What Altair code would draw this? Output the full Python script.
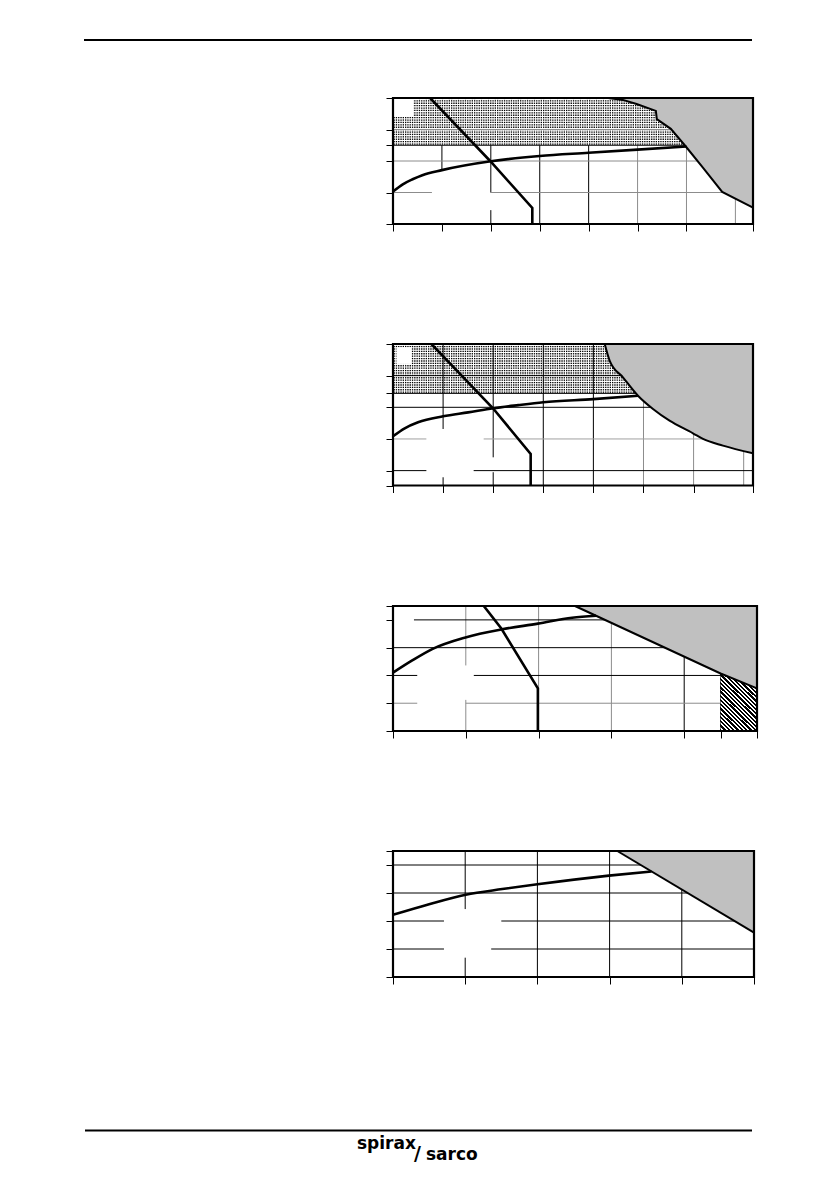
import altair as alt
import numpy as np
import pandas as pd

BLACK = "#000000"
GREY = "#8c8c8c"
SHADE = "#c0c0c0"

# ---------------- Chart 1 ----------------
c1_xdom = [0, 36.8]
c1_ydom = [0, 400]
c1_xticks = [0, 5, 10, 15, 20, 25, 30, 36.8]
c1_yticks = [0, 100, 200, 250, 300, 400]
c1_sat_x = [0, 1, 2, 3, 5, 10, 15, 20, 25, 30]
c1_sat_y = [103, 126, 142, 155, 171, 199, 216, 226, 236, 246]
c1_diag_x = [3.8, 9.93, 14.24, 14.24]
c1_diag_y = [400, 200, 51, 0]
c1_bound_x = [22.0, 23.5, 24.9, 26.87, 26.97, 28.4, 29.93, 31.7, 33.65, 36.8]
c1_bound_y = [400, 394, 381, 359, 333, 302, 246, 178, 102, 52]
c1_band = [0, 30, 250, 400]
c1_notch = [0, 2.1, 340, 400]
c1_vgrid_x = [5, 10, 10, 15, 20, 25, 30, 35]
c1_vgrid_y1 = [171, 0, 101, 0, 0, 0, 0, 0]
c1_vgrid_y2 = [250, 44, 250, 250, 250, 250, 250, 250]
c1_vgrid_c = [BLACK, BLACK, BLACK, BLACK, BLACK, GREY, GREY, GREY]
c1_hgrid_y = [100, 100, 200, 250, 300]
c1_hgrid_x1 = [0, 9.93, 0, 0, 0]
c1_hgrid_x2 = [3.98, 36.8, 36.8, 36.8, 36.8]
c1_hgrid_c = [GREY, GREY, GREY, BLACK, GREY]

# ---------------- Chart 2 ----------------
c2_xdom = [0, 35.93]
c2_ydom = [-47, 400]
c2_xticks = [0, 5, 10, 15, 20, 25, 30, 35.93]
c2_yticks = [-47, 0, 100, 200, 244, 300, 400]
c2_sat_x = [0, 1.17, 2.5, 5, 7.5, 10, 12.5, 15, 20, 24.45]
c2_sat_y = [108.5, 133.7, 152.7, 171.6, 184, 197, 207, 216, 226, 236.6]
c2_diag_x = [3.83, 9.98, 13.74, 13.74]
c2_diag_y = [400, 197, 52.7, -47]
c2_bound_x = [21.13, 21.63, 22.95, 24.45, 25.95, 27.6, 29.94, 30.94, 32.93, 35.93]
c2_bound_y = [400, 347, 294.6, 236.6, 194.6, 157.7, 118, 100, 78.9, 54.9]
c2_band = [0, 25, 244, 400]
c2_notch = [0.34, 1.83, 337, 390]
c2_vgrid_x = [5, 5, 10, 10, 15, 20, 25, 30, 35]
c2_vgrid_y1 = [131.5, -47, 42, -47, -47, -47, -47, -47, -47]
c2_vgrid_y2 = [400, -21, 400, -5, 400, 400, 400, 400, 400]
c2_vgrid_c = [BLACK, BLACK, BLACK, BLACK, BLACK, BLACK, GREY, GREY, GREY]
c2_hgrid_y = [300, 244, 200, 100, 100, 0, 0]
c2_hgrid_x1 = [0, 0, 0, 0, 9.05, 0, 8.05]
c2_hgrid_x2 = [35.93, 35.93, 35.93, 3.33, 35.93, 3.33, 35.93]
c2_hgrid_c = [BLACK, BLACK, BLACK, "#a0a0a0", "#a0a0a0", BLACK, BLACK]

# ---------------- Chart 3 ----------------
c3_xdom = [0, 50]
c3_ydom = [0, 450]
c3_xticks = [0, 10, 20, 30, 40, 45, 50]
c3_yticks = [0, 100, 200, 300, 400, 450]
c3_sat_x = [0, 2.64, 5.38, 9.95, 14.97, 19.9, 24.6, 27.9]
c3_sat_y = [210, 254, 295, 337, 366, 386.5, 408, 415]
c3_diag_x = [12.47, 14.88, 19.9, 19.9]
c3_diag_y = [450, 369, 153.5, 0]
c3_bound_x = [25, 45, 50]
c3_bound_y = [450, 207, 153.5]
c3_hatch_x = [45, 50]
c3_hatch_y = [207, 153.5]
c3_vgrid_x = [10, 10, 20, 30, 40, 45]
c3_vgrid_y1 = [236, 0, 0, 0, 0, 0]
c3_vgrid_y2 = [450, 112, 450, 450, 450, 450]
c3_vgrid_c = [GREY, GREY, GREY, GREY, BLACK, BLACK]
c3_hgrid_y = [400, 300, 200, 200, 100, 100]
c3_hgrid_x1 = [2.88, 0, 0, 11.1, 0, 10.0]
c3_hgrid_x2 = [50, 50, 3.33, 50, 3.33, 50]
c3_hgrid_c = [BLACK, BLACK, BLACK, BLACK, GREY, GREY]

# ---------------- Chart 4 ----------------
c4_xdom = [0, 50]
c4_ydom = [0, 450]
c4_xticks = [0, 10, 20, 30, 40, 50]
c4_yticks = [0, 100, 200, 300, 400, 450]
c4_sat_x = [0, 5, 10.07, 15.14, 20, 29.9, 35.8]
c4_sat_y = [222, 260, 294, 314, 331, 362, 377]
c4_bound_x = [31.07, 50]
c4_bound_y = [450, 158.8]
c4_vgrid_x = [10, 10, 20, 30, 40]
c4_vgrid_y1 = [242.6, 0, 0, 0, 0]
c4_vgrid_y2 = [450, 69, 450, 450, 450]
c4_vgrid_c = [BLACK] * 5
c4_hgrid_y = [400, 300, 200, 200, 100, 100]
c4_hgrid_x1 = [0, 0, 0, 15.0, 0, 13.6]
c4_hgrid_x2 = [50, 50, 7.06, 50, 7.06, 50]
c4_hgrid_c = [BLACK] * 6


def make_axis(vals):
    return alt.Axis(values=vals, labels=False, domain=False, grid=False, ticks=True,
                    tickSize=7, tickWidth=1, tickColor="black", title=None)


def hatch_gradient():
    n = 22
    p = 1.0 / n
    stops = []
    for k in range(n):
        a = round(k * p, 5)
        b = round(k * p + 0.55 * p, 5)
        c = round(min((k + 1) * p, 1.0), 5)
        stops += [alt.GradientStop(offset=a, color="black"),
                  alt.GradientStop(offset=b, color="black"),
                  alt.GradientStop(offset=b, color="white"),
                  alt.GradientStop(offset=c, color="white")]
    return alt.LinearGradient(gradient="linear", stops=stops, x1=0, y1=1, x2=0.726, y2=-0.17)


def build(W, H, xdom, ydom, xticks, yticks, vg, hg, sat, bound, bound_interp,
          diag=None, band=None, notch=None, hatch=None, extras=()):
    xs = alt.Scale(domain=xdom, nice=False, zero=False)
    ys = alt.Scale(domain=ydom, nice=False, zero=False)
    xa = make_axis(xticks)
    ya = make_axis(yticks)

    def X(f):
        return alt.X(f, type="quantitative", scale=xs, axis=xa)

    def Y(f):
        return alt.Y(f, type="quantitative", scale=ys, axis=ya)

    layers = []
    if band is not None:
        dx = 2.3 * (xdom[1] - xdom[0]) / W
        dy = 2.4 * (ydom[1] - ydom[0]) / H
        gx, gy = np.meshgrid(np.arange(band[0] + dx / 2, band[1], dx),
                             np.arange(band[2] + dy / 2, band[3], dy))
        dots = pd.DataFrame({"x": gx.ravel(), "y": gy.ravel()})
        layers.append(alt.Chart(dots).mark_square(size=1.8, color="black", opacity=1, strokeWidth=0)
                      .encode(x=X("x"), y=Y("y")))
    if notch is not None:
        nd = pd.DataFrame({"x1": [notch[0]], "x2": [notch[1]], "y1": [notch[2]], "y2": [notch[3]]})
        layers.append(alt.Chart(nd).mark_rect(color="white")
                      .encode(x=X("x1"), x2="x2", y=Y("y1"), y2="y2"))
    vdf = pd.DataFrame({"x": vg[0], "y1": vg[1], "y2": vg[2], "c": vg[3]})
    layers.append(alt.Chart(vdf).mark_rule(strokeWidth=1)
                  .encode(x=X("x"), y=Y("y1"), y2="y2", color=alt.Color("c:N", scale=None)))
    hdf = pd.DataFrame({"y": hg[0], "x1": hg[1], "x2": hg[2], "c": hg[3]})
    layers.append(alt.Chart(hdf).mark_rule(strokeWidth=1)
                  .encode(y=Y("y"), x=X("x1"), x2="x2", color=alt.Color("c:N", scale=None)))
    bdf = pd.DataFrame({"x": bound[0], "y": bound[1], "top": [ydom[1]] * len(bound[0]),
                        "i": list(range(len(bound[0])))})
    layers.append(alt.Chart(bdf).mark_area(color=SHADE, opacity=1, interpolate=bound_interp)
                  .encode(x=X("x"), y=Y("y"), y2="top"))
    if hatch is not None:
        hdf2 = pd.DataFrame({"x": hatch[0], "y": hatch[1], "base": [ydom[0]] * len(hatch[0])})
        layers.append(alt.Chart(hdf2).mark_area(color=hatch_gradient())
                      .encode(x=X("x"), y=Y("y"), y2="base"))
    layers.append(alt.Chart(bdf).mark_line(color="black", strokeWidth=2, interpolate=bound_interp)
                  .encode(x=X("x"), y=Y("y"), order="i:Q"))
    sdf = pd.DataFrame({"x": sat[0], "y": sat[1], "i": list(range(len(sat[0])))})
    layers.append(alt.Chart(sdf).mark_line(color="black", strokeWidth=2.6, interpolate="monotone")
                  .encode(x=X("x"), y=Y("y"), order="i:Q"))
    if diag is not None:
        ddf = pd.DataFrame({"x": diag[0], "y": diag[1], "i": list(range(len(diag[0])))})
        layers.append(alt.Chart(ddf).mark_line(color="black", strokeWidth=2.6, clip=True)
                      .encode(x=X("x"), y=Y("y"), order="i:Q"))
    one = pd.DataFrame({"a": [0]})
    layers.append(alt.Chart(one).mark_rect(fillOpacity=0, stroke="black", strokeWidth=2.2)
                  .encode(x=alt.value(0), x2=alt.value(W), y=alt.value(0), y2=alt.value(H)))
    for e in extras:
        layers.append(e)
    return alt.layer(*layers).properties(width=W, height=H)


one_row = pd.DataFrame({"a": [0]})
header = alt.Chart(one_row).mark_rule(color="black", strokeWidth=2).encode(
    x=alt.value(-309), x2=alt.value(359), y=alt.value(-58))
footer = alt.Chart(one_row).mark_rule(color="black", strokeWidth=2).encode(
    x=alt.value(-308), x2=alt.value(359), y=alt.value(279.5))
logo_font = dict(font="DejaVu Sans", fontWeight="bold", fontSize=17, align="left",
                 baseline="alphabetic", color="black")
logo1 = alt.Chart(one_row).mark_text(text="spirax", **logo_font).encode(
    x=alt.value(-36), y=alt.value(297.5))
logo2 = alt.Chart(one_row).mark_text(text="/", fontSize=19, font="DejaVu Sans", fontWeight="bold",
                                     align="left", baseline="alphabetic", color="black").encode(
    x=alt.value(21), y=alt.value(309))
logo3 = alt.Chart(one_row).mark_text(text="sarco", **logo_font).encode(
    x=alt.value(33), y=alt.value(309))

ch1 = build(360, 126, c1_xdom, c1_ydom, c1_xticks, c1_yticks,
            (c1_vgrid_x, c1_vgrid_y1, c1_vgrid_y2, c1_vgrid_c),
            (c1_hgrid_y, c1_hgrid_x1, c1_hgrid_x2, c1_hgrid_c),
            (c1_sat_x, c1_sat_y), (c1_bound_x, c1_bound_y), "linear",
            diag=(c1_diag_x, c1_diag_y), band=c1_band, notch=c1_notch, extras=[header])
ch2 = build(360, 141.5, c2_xdom, c2_ydom, c2_xticks, c2_yticks,
            (c2_vgrid_x, c2_vgrid_y1, c2_vgrid_y2, c2_vgrid_c),
            (c2_hgrid_y, c2_hgrid_x1, c2_hgrid_x2, c2_hgrid_c),
            (c2_sat_x, c2_sat_y), (c2_bound_x, c2_bound_y), "monotone",
            diag=(c2_diag_x, c2_diag_y), band=c2_band, notch=c2_notch)
ch3 = build(364, 125, c3_xdom, c3_ydom, c3_xticks, c3_yticks,
            (c3_vgrid_x, c3_vgrid_y1, c3_vgrid_y2, c3_vgrid_c),
            (c3_hgrid_y, c3_hgrid_x1, c3_hgrid_x2, c3_hgrid_c),
            (c3_sat_x, c3_sat_y), (c3_bound_x, c3_bound_y), "linear",
            diag=(c3_diag_x, c3_diag_y), hatch=(c3_hatch_x, c3_hatch_y))
ch4 = build(361, 126, c4_xdom, c4_ydom, c4_xticks, c4_yticks,
            (c4_vgrid_x, c4_vgrid_y1, c4_vgrid_y2, c4_vgrid_c),
            (c4_hgrid_y, c4_hgrid_x1, c4_hgrid_x2, c4_hgrid_c),
            (c4_sat_x, c4_sat_y), (c4_bound_x, c4_bound_y), "linear",
            extras=[footer, logo1, logo2, logo3])

chart = alt.vconcat(ch1, ch2, ch3, ch4, spacing=120, bounds="flush").properties(
    padding={"left": 75, "top": 31, "right": 5, "bottom": 5},
    background="white",
).configure_view(stroke=None)

chart.save("out.html", embed_options={"renderer": "svg", "actions": False})
